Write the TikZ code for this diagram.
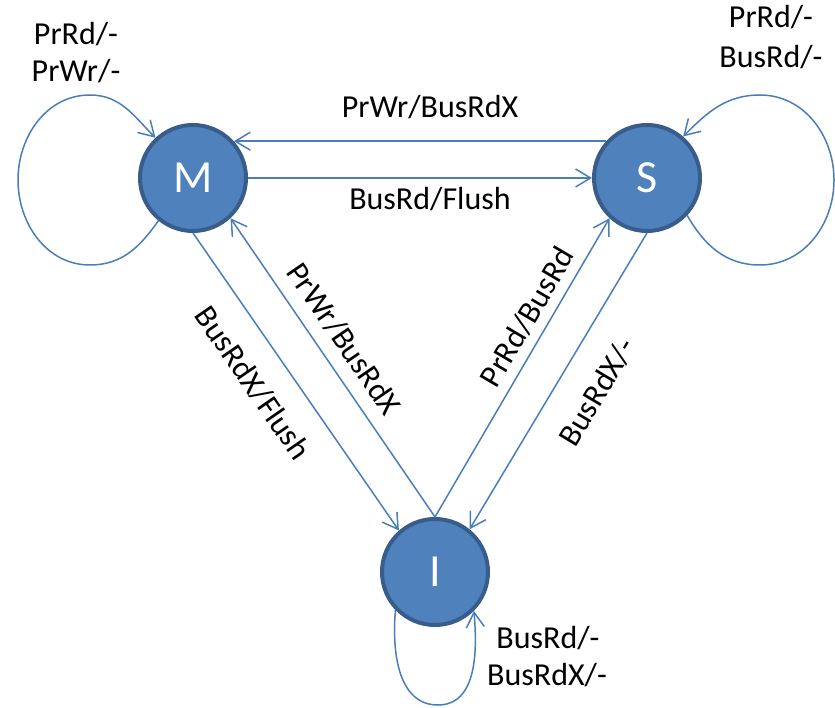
\documentclass[tikz,border=0pt]{standalone}
\usepackage{fontspec}
\setmainfont{Carlito}
\usetikzlibrary{arrows.meta}
\definecolor{statefill}{HTML}{4F81BD}
\definecolor{stateedge}{HTML}{385D8A}
\definecolor{linkblue}{HTML}{4A7EBB}
\begin{document}
\begin{tikzpicture}[x=1pt,y=1pt,
  state/.style={circle, fill=statefill, draw=stateedge, line width=4pt,
    minimum size=106pt, inner sep=0pt, text=white,
    font=\fontsize{46}{46}\selectfont},
  link/.style={draw=linkblue, line width=1.5pt,
    -{Straight Barb[length=15pt,width=18pt]}},
  lbl/.style={font=\fontsize{32}{38}\selectfont, inner sep=0pt}]
\useasboundingbox (0,0) rectangle (835,707);

% states
\node[state] (M) at (193,529) {M};
\node[state] (S) at (647,529) {S};
\node[state] (I) at (435,135) {I};

% transitions between states
\draw[link] (S.138) -- (M.42);
\draw[link] (M) -- (S);
\draw[link] (M.270) -- (I.131);
\draw[link] (I.90) -- (M.-47);
\draw[link] (I.90) -- (S.-133);
\draw[link] (S.270) -- (I.51);

% self loops
\draw[link] (M.-129) to[out=-125,in=0] (90,442) to[out=180,in=-90] (18,527)
  to[out=90,in=180] (90,612) to[out=0,in=135] (M.133);
\draw[link] (S.-43) to[out=-60,in=180] (760,442) to[out=0,in=-90] (834,527)
  to[out=90,in=0] (760,612) to[out=180,in=45] (S.49);
\draw[link] (I.-136) to[out=-95,in=180] (438,2) to[out=0,in=-85] (I.-45);

% labels
\node[lbl, anchor=base] (lsm) at (430,589) {PrWr/BusRdX};
\node[lbl, anchor=base] (lms) at (430,497) {BusRd/Flush};
\node[lbl, anchor=base] (lm1) at (76,662) {PrRd/-};
\node[lbl, anchor=base] (lm2) at (76,625) {PrWr/-};
\node[lbl, anchor=base] (ls1) at (771,679) {PrRd/-};
\node[lbl, anchor=base] (ls2) at (771,639) {BusRd/-};
\node[lbl, anchor=base] (li1) at (548,59) {BusRd/-};
\node[lbl, anchor=base] (li2) at (547,22) {BusRdX/-};
\node[lbl, rotate=-55.3] (lmi) at (253,324) {BusRdX/Flush};
\node[lbl, rotate=-55.5] (lim) at (344,368) {PrWr/BusRdX};
\node[lbl, rotate=59.5] (lis) at (527,390) {PrRd/BusRd};
\node[lbl, rotate=59] (lsi) at (597,315) {BusRdX/-};
\end{tikzpicture}
\end{document}
